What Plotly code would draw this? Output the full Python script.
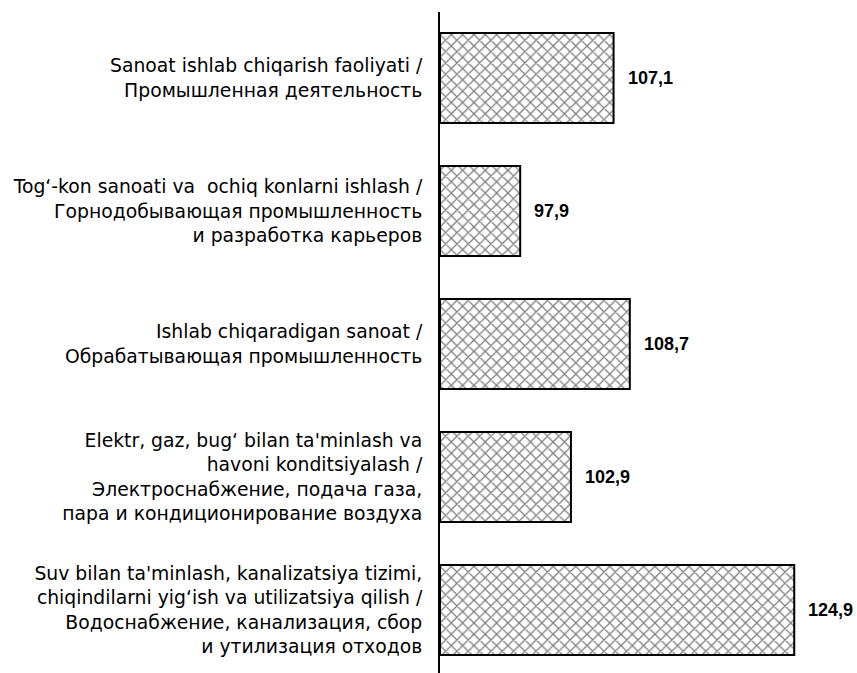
import plotly.graph_objects as go

categories = [
    "Sanoat ishlab chiqarish faoliyati /<br>Промышленная деятельность",
    "Tog‘-kon sanoati va  ochiq konlarni ishlash /<br>Горнодобывающая промышленность<br>и разработка карьеров",
    "Ishlab chiqaradigan sanoat /<br>Обрабатывающая промышленность",
    "Elektr, gaz, bug‘ bilan ta'minlash va<br>havoni konditsiyalash /<br>Электроснабжение, подача газа,<br>пара и кондиционирование воздуха",
    "Suv bilan ta'minlash, kanalizatsiya tizimi,<br>chiqindilarni yig‘ish va utilizatsiya qilish /<br>Водоснабжение, канализация, сбор<br>и утилизация отходов",
]
values = [107.1, 97.9, 108.7, 102.9, 124.9]
value_labels = [f"{v:.1f}".replace(".", ",") for v in values]

base = 90

fig = go.Figure()
fig.add_trace(go.Bar(
    y=categories,
    x=[v - base for v in values],
    base=base,
    orientation="h",
    marker=dict(
        color="white",
        line=dict(color="black", width=2),
        pattern=dict(shape="x", size=8, solidity=0.3, fgcolor="black", bgcolor="white"),
    ),
    showlegend=False,
    hoverinfo="skip",
))

for c, v, t in zip(categories, values, value_labels):
    fig.add_annotation(
        x=v, y=c, text=t, showarrow=False, xanchor="left", yanchor="middle",
        xshift=12,
        font=dict(family="Liberation Sans, Arial", size=18, color="black", weight="bold"),
    )

fig.update_layout(
    width=857, height=673,
    margin=dict(l=440, r=11, t=12, b=0),
    paper_bgcolor="white",
    plot_bgcolor="white",
    bargap=0.323,
    font=dict(family="DejaVu Sans, Arial", size=18.8, color="black"),
)
fig.update_xaxes(
    range=[base, 130], showgrid=False, zeroline=False, showline=False,
    showticklabels=False, ticks="",
)
fig.update_yaxes(
    type="category", categoryorder="array", categoryarray=categories,
    range=[4.474, -0.496], showgrid=False, zeroline=False,
    showline=True, linecolor="black", linewidth=2,
    ticks="", ticklabelstandoff=12,
    tickfont=dict(family="DejaVu Sans, Arial", size=18.8, color="black"),
)

fig.write_html(
    "out.html",
    config={"displayModeBar": False},
    post_script="document.body.style.margin='0';document.body.style.overflow='hidden';",
)
